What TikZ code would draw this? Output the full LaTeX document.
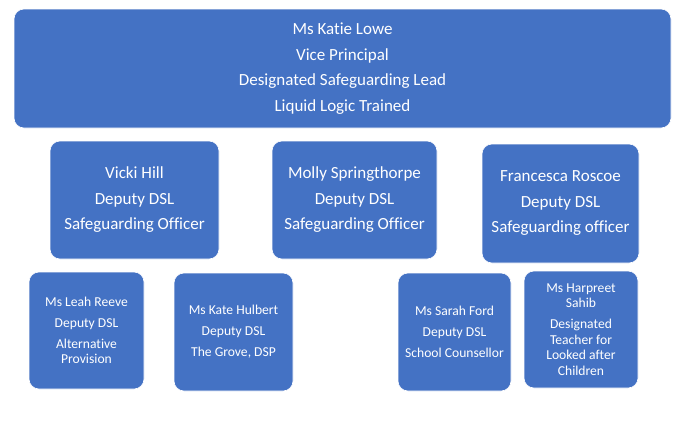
\documentclass[tikz,border=0pt]{standalone}
\usepackage{fontspec}
\setmainfont{Carlito}[Ligatures=NoCommon]
\definecolor{boxblue}{HTML}{4472C4}

\tikzset{
  staffbox/.style={draw=white, line width=0.6pt, fill=boxblue, text=white,
    rounded corners=10pt, inner sep=0pt, align=center},
  bigtext/.style={font=\fontsize{17}{25.5}\selectfont},
  smalltext/.style={font=\fontsize{13.6}{15.5}\selectfont}
}

\begin{document}
\begin{tikzpicture}[x=1pt,y=-1pt]
  \useasboundingbox (0,0) rectangle (688,421);
  % lead
  \node[staffbox, bigtext, minimum width=657pt, minimum height=119pt] (lowe) at (342.5,68.5)
    {Ms Katie Lowe\\Vice Principal\\Designated Safeguarding Lead\\Liquid Logic Trained};
  % deputies
  \node[staffbox, bigtext, minimum width=169pt, minimum height=118pt] (hill) at (134.5,200)
    {Vicki Hill\\Deputy DSL\\Safeguarding Officer};
  \node[staffbox, bigtext, minimum width=165pt, minimum height=118pt] (springthorpe) at (354.5,200)
    {Molly Springthorpe\\Deputy DSL\\Safeguarding Officer};
  \node[staffbox, bigtext, minimum width=157pt, minimum height=119pt] (roscoe) at (560.5,203.5)
    {Francesca Roscoe\\Deputy DSL\\Safeguarding officer};
  % bottom row
  \node[staffbox, smalltext, minimum width=115pt, minimum height=117pt] (reeve) at (86.5,330.5)
    {Ms Leah Reeve\\[5.5pt]Deputy DSL\\[5.5pt]Alternative\\Provision};
  \node[staffbox, smalltext, minimum width=119pt, minimum height=118pt] (hulbert) at (233.5,332)
    {Ms Kate Hulbert\\[5.5pt]Deputy DSL\\[5.5pt]The Grove, DSP};
  \node[staffbox, smalltext, minimum width=113pt, minimum height=118pt] (ford) at (454.5,332)
    {Ms Sarah Ford\\[5.5pt]Deputy DSL\\[5.5pt]School Counsellor};
  \node[staffbox, smalltext, minimum width=114pt, minimum height=117pt] (sahib) at (581,329.5)
    {Ms Harpreet\\Sahib\\[5.5pt]Designated\\Teacher for\\Looked after\\Children};
  %\node[staffbox] (extra) at (0,0) {};
\end{tikzpicture}
\end{document}
